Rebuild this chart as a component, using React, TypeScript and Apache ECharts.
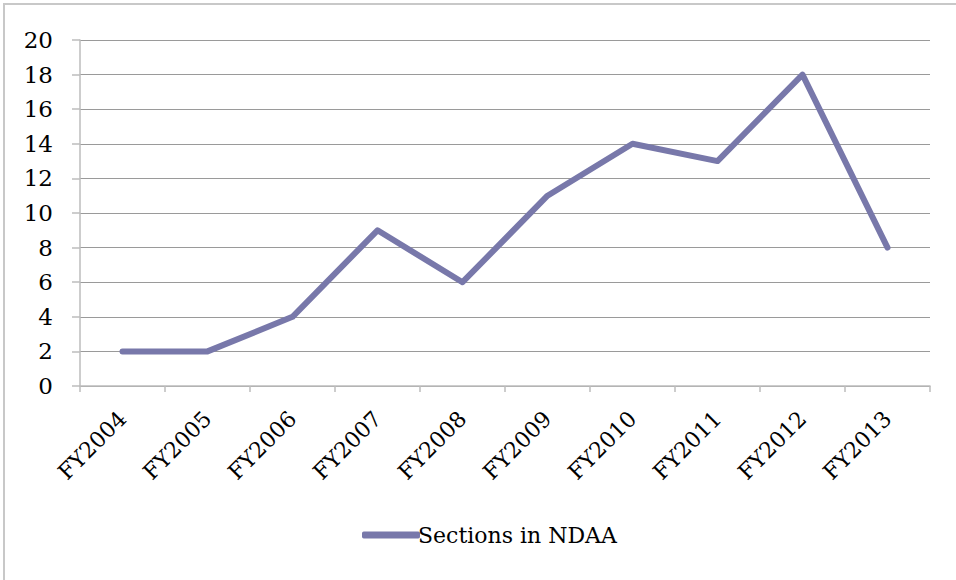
import React, { useEffect, useRef } from "react";
import * as echarts from "echarts";

const categories = ["FY2004", "FY2005", "FY2006", "FY2007", "FY2008", "FY2009", "FY2010", "FY2011", "FY2012", "FY2013"];
const sectionsValues = [2, 2, 4, 9, 6, 11, 14, 13, 18, 8];
const seriesName = "Sections in NDAA";

export default function App() {
  const ref = useRef<HTMLDivElement>(null);
  useEffect(() => {
    const chart = echarts.init(ref.current!, null, { renderer: "svg" });
    const font = "DejaVu Serif";
    chart.setOption({
      animation: false,
      backgroundColor: "#ffffff",
      graphic: [
        {
          type: "rect",
          shape: { x: 4, y: 4, width: 1000, height: 1000 },
          style: { fill: "none", stroke: "#c8c8c8", lineWidth: 2 },
          silent: true,
        },
      ],
      grid: { left: 80, right: 26, top: 40, bottom: 194 },
      legend: {
        show: true,
        left: 357,
        top: 519,
        itemWidth: 58,
        itemHeight: 7,
        icon: "roundRect",
        itemGap: 10,
        data: [{ name: seriesName, icon: "roundRect" }],
        textStyle: { fontFamily: font, fontSize: 22, color: "#000", padding: [0, 0, 0, -7] },
      },
      xAxis: {
        type: "category",
        data: categories,
        boundaryGap: true,
        axisLine: { show: true, lineStyle: { color: "#bcbcbc", width: 1.5 } },
        axisTick: { show: true, alignWithLabel: false, length: 6, lineStyle: { color: "#bcbcbc", width: 1.5 } },
        axisLabel: { rotate: 45, margin: 29, fontFamily: font, fontSize: 22, color: "#000", interval: 0 },
        splitLine: { show: false },
      },
      yAxis: {
        type: "value",
        min: 0,
        max: 20,
        interval: 2,
        axisLine: { show: true, lineStyle: { color: "#bcbcbc", width: 1.5 } },
        axisTick: { show: true, length: 8, lineStyle: { color: "#bcbcbc", width: 1.5 } },
        axisLabel: { margin: 27, fontFamily: font, fontSize: 23, color: "#000" },
        splitLine: { show: true, lineStyle: { color: "#9a9a9a", width: 1 } },
      },
      series: [
        {
          name: seriesName,
          type: "line",
          data: sectionsValues,
          symbol: "none",
          lineStyle: { color: "#7878aa", width: 6, cap: "round", join: "round" },
          itemStyle: { color: "#7878aa" },
        },
      ],
    });
    return () => chart.dispose();
  }, []);
  return <div ref={ref} style={{ position: "fixed", left: 0, top: 0, width: 956, height: 580 }} />;
}
